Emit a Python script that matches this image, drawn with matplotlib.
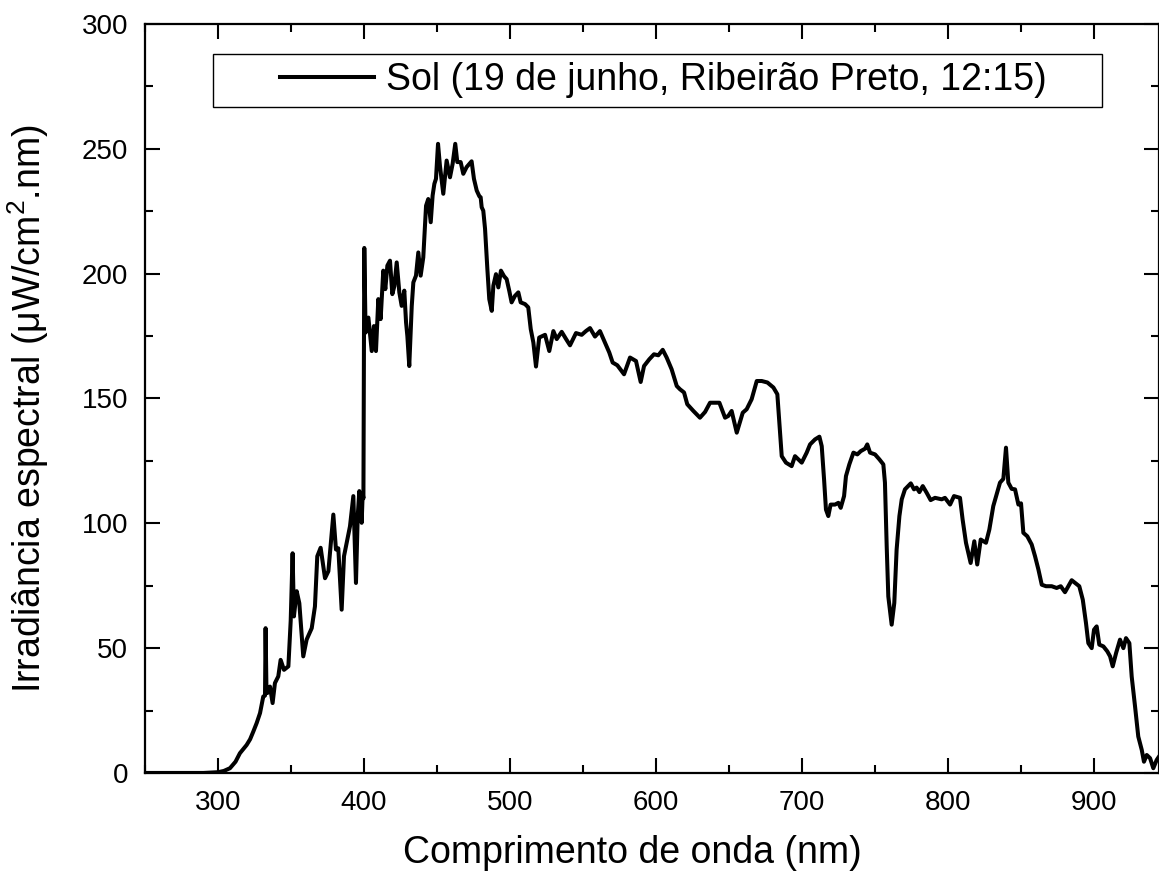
import matplotlib
matplotlib.use("Agg")
import matplotlib.pyplot as plt
from matplotlib.patches import Rectangle
from matplotlib.ticker import MultipleLocator

plt.rcParams['font.family'] = ['Liberation Sans', 'DejaVu Sans']
plt.rcParams['mathtext.fontset'] = 'custom'
plt.rcParams['mathtext.rm'] = 'Liberation Sans'
plt.rcParams['mathtext.it'] = 'Liberation Sans:italic'

wavelength_nm = [
    250, 290, 300, 304, 308.2, 312, 315, 319.6, 322, 324.2, 326.5, 328.8, 331, 332.2, 332.6, 333.2,
    333.8, 335.6, 337.4, 339, 341.3, 342.9, 345.2, 348.2, 349.8, 351.1, 352, 353.9, 355.7, 358.4,
    360.7, 364.2, 366.4, 368, 370.3, 373.3, 375.6, 379, 380.8, 382.4, 384.7, 386.3, 388.6, 390.4,
    392.7, 394.5, 395.7, 396.8, 398.4, 399.1, 399.6, 400.2, 401.1, 403, 405.3, 406.8, 408.2, 409.8,
    411.4, 413.2, 414.6, 416, 417.8, 419.4, 420.8, 422.4, 424.2, 425.8, 427.6, 428.8, 429.7, 431,
    432.7, 433.8, 435.6, 437.2, 438.8, 440.6, 442.5, 444, 445.7, 447, 448.2, 449.3, 450.7, 452,
    454.3, 456.6, 458.9, 460.7, 462.5, 463.9, 466.2, 468, 470.3, 473.7, 475.3, 477.2, 479, 479.9,
    480.6, 481.7, 482.9, 484.5, 485.8, 487.5, 488.6, 490.4, 492, 493.8, 495.9, 497.7, 499.5, 501.1,
    503.4, 505.7, 507.3, 510.3, 512.5, 514.2, 516, 517.8, 520, 524, 526.9, 529.7, 532, 535.4,
    538.4, 541.1, 545.2, 549.1, 552, 554.8, 558.2, 561.6, 565, 568, 570.3, 573.5, 578.1, 582.2,
    586.3, 589.5, 591.8, 595.4, 598.6, 601.6, 604.6, 607.3, 610.7, 614.2, 616.4, 619.2, 621.4,
    625.6, 630.1, 633.6, 637, 640.4, 643.4, 647.3, 649.5, 651.8, 655.3, 659.4, 662.1, 665.5, 669,
    672.4, 676.3, 680.4, 683.1, 684.5, 686.1, 689, 692.9, 695.2, 697.5, 699.8, 703.2, 705.5,
    708.9, 711.9, 713.5, 715.1, 716.4, 718, 719.6, 722.6, 724.9, 726.5, 728.8, 730.1, 732.4,
    735.2, 737.9, 740.2, 743.2, 744.7, 746.6, 750, 753, 755.7, 756.8, 758, 759.1, 761.4, 763.2,
    764.8, 766.7, 768.3, 770.5, 774.5, 776.7, 778.5, 780.4, 782.7, 785.4, 788.1, 791.1, 795.7,
    797.9, 801.4, 804.1, 808.2, 810, 812.3, 815.5, 818, 820, 822.4, 826, 828.3, 831, 833.3,
    835.6, 837.9, 839.7, 841.3, 843.6, 845.9, 848.2, 850, 851.6, 854.3, 857.3, 859.6, 861.9,
    864.2, 867.1, 871, 874.4, 877.2, 880.1, 882.4, 884.7, 887.7, 889.9, 892.3, 894.5, 896.1,
    898.4, 900, 901.8, 903.6, 906.4, 909.1, 911, 912.8, 915.1, 917.8, 920.1, 921.9, 924.2,
    925.8, 928.1, 930.3, 932.7, 934.2, 936.1, 938.4, 940.6, 942.9, 945,
]

irradiance = [
    0, 0, 0.3, 0.8, 1.9, 4.5, 7.9, 11.2, 13.5, 16.6, 20, 24, 30.6, 31, 58, 33,
    32, 34.6, 28, 36, 38.7, 45.3, 41.3, 42.7, 61, 88, 62.7, 72.8, 68, 46.7,
    53.4, 58, 66.7, 86.8, 90.2, 78, 80.8, 103.5, 89.5, 90, 65.4, 86.8, 93.5, 98.8,
    110.9, 76.1, 102.9, 112.9, 100.2, 112, 110, 210.3, 176.4, 182.4, 169, 179, 169, 189.8,
    181.8, 201.2, 193.8, 203.2, 205.2, 191.8, 195, 204.5, 192.5, 187.1, 193.2, 180.5, 175, 163,
    187, 196.5, 199.2, 208.5, 199.2, 206.5, 227.2, 229.9, 220.6, 231.3, 236, 238, 252, 243.3,
    232, 245.3, 238.6, 244, 252, 244.7, 244.7, 240, 242.7, 245, 238, 233.3, 231, 230.6,
    226.6, 225.2, 218, 201.8, 189.8, 185.1, 195.2, 199.8, 194.5, 201.2, 199, 197.8, 193.1, 188.5,
    191.1, 192.5, 188.5, 187.8, 186.5, 177.8, 172.4, 162.8, 174.4, 175.5, 169, 177, 173.8, 176.7,
    173.8, 171.3, 176.2, 175.5, 177, 178.2, 174.8, 177, 172.4, 168.4, 164.4, 163.3, 159.7, 166.4,
    165, 156.6, 163, 165.7, 167.7, 167.3, 169.5, 166.4, 161.7, 155, 153.7, 152.4, 147.7,
    145, 142.3, 144.6, 148.3, 148.3, 148.3, 142.3, 143, 145, 136.3, 144.3, 145.7, 149.7, 157,
    157, 156.4, 154.4, 151.7, 140.3, 126.9, 124.3, 122.9, 126.9, 125.6, 124.3, 128.3, 131.6,
    133.6, 134.7, 130.9, 117.6, 105.5, 102.9, 107.5, 107.5, 108.2, 106.2, 110.9, 118.9, 123.6,
    128.3, 127.6, 128.9, 129.9, 131.6, 128.3, 127.6, 125.6, 123.6, 116.3, 90.8, 70.7, 59.4, 68.1,
    89.5, 102.9, 109.6, 113.6, 116, 113.6, 114.3, 112.5, 114.9, 112.2, 109.3, 110.2, 109.6,
    110.2, 107.5, 110.9, 110.2, 101.5, 92.2, 84.1, 92.8, 83.5, 93.5, 92.2, 97.5, 106.9, 111.6,
    116.3, 117.8, 130.3, 116.3, 113.8, 113.6, 107.5, 108, 96.2, 94.8, 91.5, 86.8, 81.5,
    75.4, 74.8, 74.8, 74.1, 74.8, 72.4, 74.8, 77.2, 75.8, 74.8, 69.4, 60, 52,
    50, 57.4, 58.7, 51.4, 50.7, 48.7, 46.7, 42.7, 48, 53.4, 50, 54, 52,
    38.6, 26.6, 14.6, 9.2, 4.5, 7.2, 5.9, 1.9, 5.2, 7,
]

series_label = "Sol (19 de junho, Ribeirão Preto, 12:15)"
x_label = "Comprimento de onda (nm)"
y_label = "Irradiância espectral (μW/cm$^2$.nm)"

fig = plt.figure(figsize=(11.59, 8.73), dpi=100)
ax = fig.add_axes([0.1251, 0.1146, 0.8749, 0.8579])

ax.plot(wavelength_nm, irradiance, color='black', lw=2.9, solid_joinstyle='round', label=series_label)

ax.set_xlim(250, 944.5)
ax.set_ylim(0, 300)
ax.xaxis.set_major_locator(MultipleLocator(100))
ax.xaxis.set_minor_locator(MultipleLocator(50))
ax.yaxis.set_major_locator(MultipleLocator(50))
ax.yaxis.set_minor_locator(MultipleLocator(25))

ax.tick_params(which='both', direction='in', top=True, right=True, width=1.5, colors='black')
ax.tick_params(which='major', length=11, labelsize=20, pad=12)
ax.tick_params(which='minor', length=6)
for s in ax.spines.values():
    s.set_linewidth(1.6)

ax.set_xlabel(x_label, fontsize=27, labelpad=14)
ax.xaxis.label.set_x(0.481)
ax.set_ylabel(y_label, fontsize=27, labelpad=22)
ax.yaxis.label.set_y(0.487)

# legend: content without frame, plus a rectangular box
leg = ax.legend(loc='center left', bbox_to_anchor=(0.1331, 0.9246), frameon=False,
                fontsize=27, handlelength=2.5, handletextpad=0.32, borderpad=0,
                borderaxespad=0)
for h in leg.get_lines():
    h.set_linewidth(2.9)
ax.add_patch(Rectangle((0.0671, 0.889), 0.9438 - 0.0671, 0.960 - 0.889, transform=ax.transAxes,
                       fill=False, edgecolor='black', lw=1.0, zorder=5))

fig.savefig('out.png', dpi=100)
